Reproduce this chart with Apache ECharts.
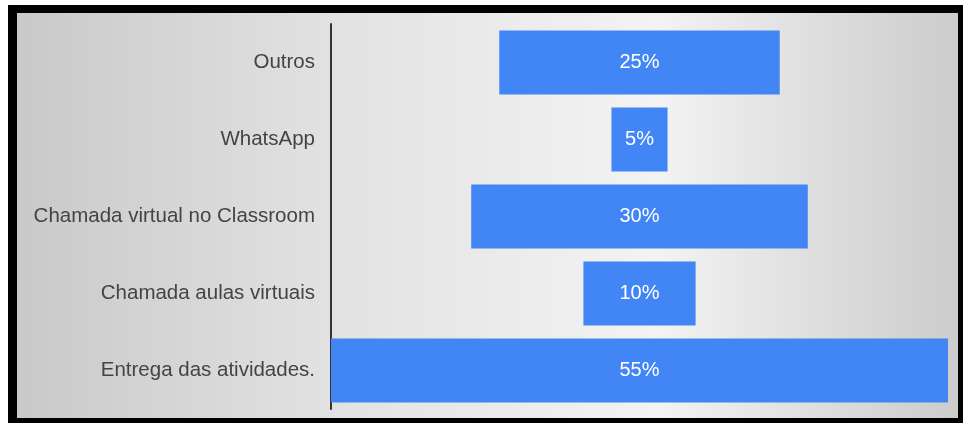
<!DOCTYPE html>
<html>
<head>
<meta charset="utf-8">
<script src="https://cdn.jsdelivr.net/npm/echarts@6/dist/echarts.min.js"></script>
<style>
html,body{margin:0;padding:0;background:#fff;}
#c{width:963px;height:423px;}
</style>
</head>
<body>
<div id="c"></div>
<script>
var categories = ['Outros', 'WhatsApp', 'Chamada virtual no Classroom', 'Chamada aulas virtuais', 'Entrega das atividades.'];
var values = [25, 5, 30, 10, 55];
var axisMax = 55;

var offsets = values.map(function (v) { return (axisMax - v) / 2; });

var chart = echarts.init(document.getElementById('c'));
chart.setOption({
  animation: false,
  graphic: [
    { type: 'rect', z: -10, shape: { x: 8, y: 5, width: 955, height: 418 }, style: { fill: '#000' } },
    { type: 'rect', z: -9, shape: { x: 17, y: 13, width: 941, height: 405 },
      style: { fill: new echarts.graphic.LinearGradient(0, 0, 1, 0, [
        { offset: 0, color: '#c9c9c9' },
        { offset: 0.35, color: '#e3e3e3' },
        { offset: 0.68, color: '#f3f3f3' },
        { offset: 1, color: '#cccccc' }
      ]) } }
  ],
  grid: { left: 331, right: 15, top: 24, bottom: 14 },
  xAxis: { type: 'value', min: 0, max: axisMax, show: false },
  yAxis: {
    type: 'category',
    data: categories,
    inverse: true,
    axisLine: { lineStyle: { color: '#333', width: 2 } },
    axisTick: { show: false },
    axisLabel: { color: '#444', fontSize: 20.5, fontFamily: 'Liberation Sans, Arial, sans-serif', margin: 16 }
  },
  series: [
    { type: 'bar', stack: 'f', data: offsets, barWidth: 64, itemStyle: { color: 'rgba(0,0,0,0)' }, silent: true },
    { type: 'bar', stack: 'f', data: values, barWidth: 64,
      itemStyle: { color: '#4285f4' },
      label: { show: true, position: 'inside', formatter: '{c}%', color: '#fff', fontSize: 20, fontFamily: 'Liberation Sans, Arial, sans-serif' } }
  ]
});
</script>
</body>
</html>
